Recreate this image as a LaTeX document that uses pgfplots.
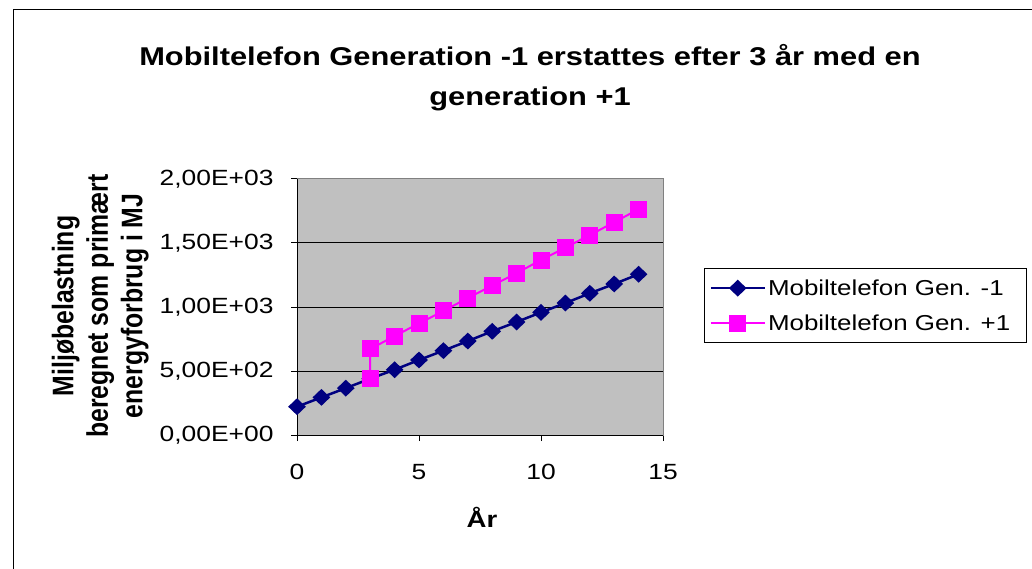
\documentclass[border=0pt]{standalone}
\usepackage{graphicx}
\usepackage{pgfplots}
\pgfplotsset{compat=1.18}
\usepackage{fontspec}
\setmainfont{Liberation Sans}
\definecolor{plotbg}{RGB}{192,192,192}
\definecolor{navyc}{RGB}{0,0,128}
\definecolor{magc}{RGB}{255,0,255}
\newcommand{\sx}[1]{\scalebox{1.2}[1]{#1}}
\begin{document}
\begin{tikzpicture}[x=1pt,y=1pt]
\clip (0,0) rectangle (1032,568);
\fill[white] (0,0) rectangle (1032,568);
\draw[black, line width=1pt] (13,-10) -- (13,558) -- (1050,558);
\node[align=center, font=\fontsize{25.7}{40}\selectfont\bfseries] at (530,490)
  {\sx{Mobiltelefon Generation -1 erstattes efter 3 år med en}\\\sx{generation +1}};
\node[rotate=90, font=\fontsize{24.8}{28.75}\selectfont\bfseries] at (101,262)
  {\scalebox{1}[1.2]{\begin{tabular}{@{}c@{}}Miljøbelastning\\beregnet som primært\\energyforbrug i MJ\end{tabular}}};
\node[font=\fontsize{23}{28}\selectfont\bfseries] at (482,51) {\sx{År}};
\begin{axis}[
  at={(297pt,133pt)}, anchor=south west,
  width=366pt, height=256pt, scale only axis,
  xmin=0, xmax=15, ymin=0, ymax=2000,
  axis background/.style={fill=plotbg},
  axis line style={draw=black!50, line width=1pt},
  ymajorgrids, grid style={black, line width=1pt},
  xtick={0,5,10,15}, xticklabels={\sx{0},\sx{5},\sx{10},\sx{15}},
  ytick={0,500,1000,1500,2000},
  yticklabels={{\sx{0,00E+00}},{\sx{5,00E+02}},{\sx{1,00E+03}},{\sx{1,50E+03}},{\sx{2,00E+03}}},
  tick align=outside, tick pos=left,
  major tick length=6pt, tick style={black, line width=1pt},
  ticklabel style={font=\fontsize{22}{26}\selectfont},
  xticklabel style={yshift=-20pt},
  yticklabel style={xshift=-14pt},
  legend style={at={(1.112,0.652)}, anchor=north west, draw=black, line width=1pt,
    font=\fontsize{21.6}{25}\selectfont, row sep=14pt, inner xsep=5pt, inner ysep=9pt},
  legend cell align=left,
  legend image code/.code={\draw[mark repeat=2,mark phase=2] plot coordinates {(0pt,0pt) (27pt,0pt) (54pt,0pt)};},
]
\addplot[navyc, line width=2.5pt, mark=diamond*, mark size=6.7pt, mark options={xscale=1.4, solid}]
coordinates {(0,221) (1,294) (2,366) (3,440) (4,510) (5,586) (6,659) (7,734) (8,810) (9,883) (10,958) (11,1031) (12,1107) (13,1180) (14,1256)};
\addlegendentry{\sx{Mobiltelefon Gen. -1}}
\addplot[magc, line width=2pt, mark=square*, mark size=7.5pt]
coordinates {(3,443) (3,672) (4,773) (5,872) (6,969) (7,1070) (8,1167) (9,1265) (10,1367) (11,1464) (12,1562) (13,1662) (14,1764)};
\addlegendentry{\sx{Mobiltelefon Gen. +1}\hspace*{9pt}}
\draw[black, line width=1pt] (rel axis cs:0,1) -- (rel axis cs:0,0) -- (rel axis cs:1,0);
\end{axis}
\end{tikzpicture}
\end{document}
